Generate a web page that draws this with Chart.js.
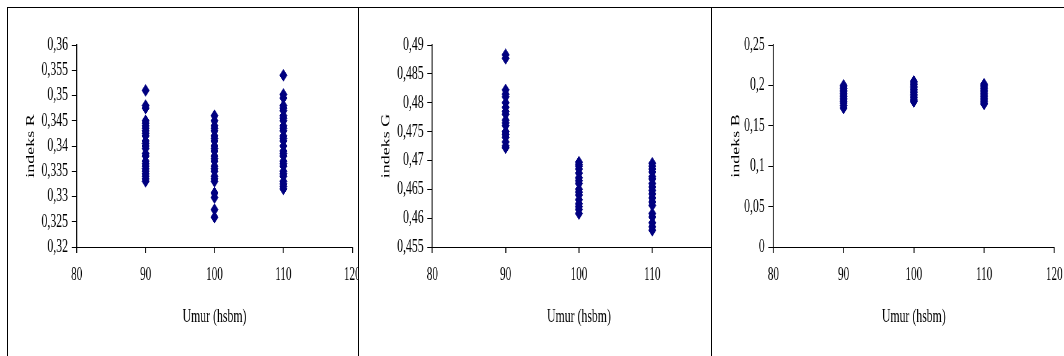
<!DOCTYPE html>
<html>
<head>
<meta charset="utf-8">
<script src="https://cdn.jsdelivr.net/npm/chart.js@4/dist/chart.umd.min.js"></script>
<style>
	html, body { margin: 0; padding: 0; background: #fff; overflow: hidden; }
	body { width: 1064px; height: 356px; position: relative; }
	.panel {
		position: absolute;
		top: 7px;
		width: 384px;
		height: 352px;
		border: 1px solid #000;
		background: #fff;
		overflow: hidden;
	}
	/* the original pictures are squeezed sideways */
	.squeeze {
		width: 620px;
		height: 348px;
		transform: scaleX(0.62);
		transform-origin: 0 0;
	}
</style>
</head>
<body>
<div class="panel" style="left: 7px; z-index: 1;">
	<div class="squeeze"><canvas id="chartR" width="620" height="348"></canvas></div>
</div>
<div class="panel" style="left: 358px; z-index: 2;">
	<div class="squeeze"><canvas id="chartG" width="620" height="348"></canvas></div>
</div>
<div class="panel" style="left: 711px; z-index: 3;">
	<div class="squeeze"><canvas id="chartB" width="620" height="348"></canvas></div>
</div>
<script>
const ages = [90, 100, 110];
const xTicks = [80, 90, 100, 110, 120];

const r90 = [0.351, 0.348, 0.3475, 0.345, 0.3445, 0.344, 0.3435, 0.343, 0.3425, 0.342, 0.341, 0.3405, 0.34, 0.3395, 0.3385, 0.338, 0.337, 0.3365, 0.336, 0.3355, 0.335, 0.3345, 0.334, 0.3335, 0.333];
const r100 = [0.346, 0.345, 0.344, 0.3435, 0.343, 0.342, 0.3415, 0.341, 0.34, 0.3395, 0.339, 0.338, 0.3375, 0.337, 0.336, 0.3355, 0.335, 0.334, 0.3335, 0.333, 0.3307, 0.3298, 0.3274, 0.3259];
const r110 = [0.354, 0.3502, 0.3495, 0.348, 0.3475, 0.347, 0.346, 0.3455, 0.345, 0.344, 0.3435, 0.343, 0.342, 0.3415, 0.341, 0.34, 0.339, 0.3385, 0.338, 0.337, 0.3365, 0.336, 0.335, 0.3345, 0.334, 0.333, 0.3325, 0.332, 0.3315];

const g90 = [0.4883, 0.4877, 0.4822, 0.4815, 0.481, 0.48, 0.4792, 0.4785, 0.478, 0.477, 0.4765, 0.476, 0.475, 0.4745, 0.474, 0.4732, 0.4725, 0.4722];
const g100 = [0.4697, 0.4693, 0.469, 0.4685, 0.4678, 0.467, 0.4665, 0.466, 0.465, 0.4645, 0.464, 0.4632, 0.4625, 0.462, 0.4615, 0.4608];
const g110 = [0.4695, 0.469, 0.4685, 0.468, 0.4672, 0.4668, 0.466, 0.4654, 0.4648, 0.4642, 0.4635, 0.4628, 0.4622, 0.4608, 0.4602, 0.4592, 0.4585, 0.4579];

const b90 = [0.2, 0.198, 0.196, 0.194, 0.192, 0.19, 0.188, 0.186, 0.184, 0.182, 0.18, 0.178, 0.175, 0.172];
const b100 = [0.205, 0.203, 0.201, 0.199, 0.197, 0.195, 0.193, 0.191, 0.189, 0.187, 0.185, 0.183, 0.181, 0.18];
const b110 = [0.2015, 0.2, 0.198, 0.196, 0.194, 0.192, 0.19, 0.188, 0.186, 0.184, 0.182, 0.18, 0.178, 0.177];

Chart.defaults.font.family = "'Liberation Serif', 'Times New Roman', serif";
Chart.defaults.color = "#000";

function toPoints(groups) {
	const pts = [];
	groups.forEach((vals, i) => {
		for (const v of vals) pts.push({ x: ages[i], y: v });
	});
	return pts;
}

function commaLabel(value) {
	return Number(value.toFixed(4)).toString().replace(".", ",");
}

function makeChart(id, yTitle, yMin, yMax, yStep, groups, box) {
	return new Chart(document.getElementById(id), {
		type: "scatter",
		data: {
			datasets: [
				{
					data: toPoints(groups),
					pointStyle: "rectRot",
					pointRadius: 5.9,
					pointHoverRadius: 5.9,
					backgroundColor: "#000080",
					borderColor: "#000080",
					borderWidth: 1,
				},
			],
		},
		options: {
			responsive: false,
			animation: false,
			devicePixelRatio: 1,
			layout: {
				padding: { left: box.left, right: box.right, top: 37, bottom: 28 },
			},
			plugins: {
				legend: { display: false },
				tooltip: { enabled: false },
			},
			scales: {
				x: {
					type: "linear",
					min: xTicks[0],
					max: xTicks[xTicks.length - 1],
					afterBuildTicks: (scale) => {
						scale.ticks = xTicks.map((v) => ({ value: v }));
					},
					afterFit: (scale) => {
						scale.height = 81;
					},
					grid: {
						drawOnChartArea: false,
						drawTicks: true,
						tickLength: 6,
						color: "#000",
						lineWidth: 1.6,
					},
					border: { display: true, color: "#000", width: 1 },
					ticks: { padding: 11, autoSkip: false, font: { size: 18 } },
					title: {
						display: true,
						text: "Umur (hsbm)",
						font: { size: 19 },
						padding: 0,
					},
				},
				y: {
					min: yMin,
					max: yMax,
					afterFit: (scale) => {
						scale.width = box.axis;
					},
					grid: {
						drawOnChartArea: false,
						drawTicks: true,
						tickLength: 8,
						color: "#000",
						lineWidth: 1,
					},
					border: { display: true, color: "#000", width: 1.6 },
					ticks: {
						stepSize: yStep,
						autoSkip: false,
						padding: 6,
						font: { size: 19 },
						callback: (value) => commaLabel(value),
					},
					title: {
						display: true,
						text: yTitle,
						font: { size: 18 },
						padding: 0,
					},
				},
			},
		},
	});
}

makeChart("chartR", "indeks R", 0.32, 0.36, 0.005, [r90, r100, r110], { left: 26, axis: 84.8, right: 64.7 });
makeChart("chartG", "indeks G", 0.455, 0.49, 0.005, [g90, g100, g110], { left: 33.5, axis: 84.7, right: 28.7 });
makeChart("chartB", "indeks B", 0, 0.25, 0.05, [b90, b100, b110], { left: 28.5, axis: 70.4, right: 67.9 });
</script>
</body>
</html>
